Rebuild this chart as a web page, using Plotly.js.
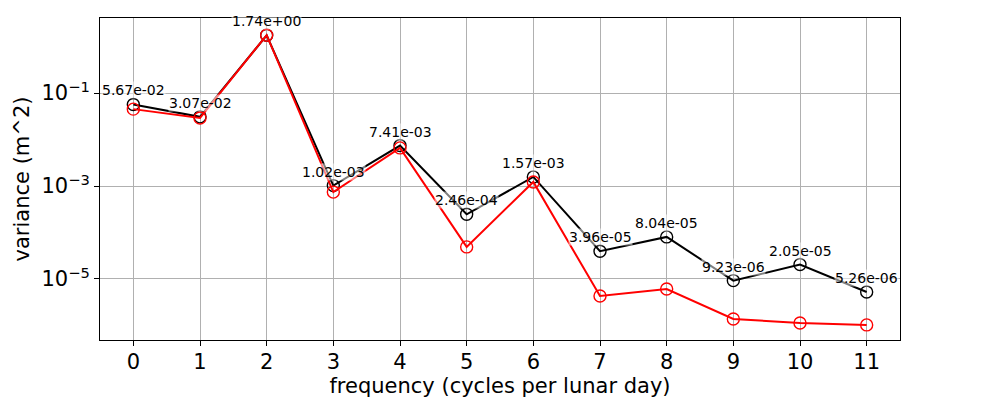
<!DOCTYPE html>
<html>
<head>
<meta charset="utf-8">
<script src="https://cdn.plot.ly/plotly-3.0.1.min.js"></script>
<style>
  html, body { margin: 0; padding: 0; background: #fff; }
  #plot { width: 1000px; height: 400px; }
</style>
</head>
<body>
<div id="plot"></div>
<script>
// frequency bins (cycles per lunar day)
var freq = [0, 1, 2, 3, 4, 5, 6, 7, 8, 9, 10, 11];

// variance per bin, black series (annotated)
var var_black = [5.67e-2, 3.07e-2, 1.74, 1.02e-3, 7.41e-3, 2.46e-4,
                 1.57e-3, 3.96e-5, 8.04e-5, 9.23e-6, 2.05e-5, 5.26e-6];

// variance per bin, red series
var var_red = [4.5e-2, 2.9e-2, 1.75, 7.4e-4, 6.6e-3, 4.9e-5,
               1.22e-3, 4.3e-6, 6.1e-6, 1.38e-6, 1.13e-6, 1.03e-6];

// y tick labels
var ytick_vals = [1e-5, 1e-3, 1e-1];
var ytick_text = ['10<sup>\u22125</sup>', '10<sup>\u22123</sup>', '10<sup>\u22121</sup>'];

var font_family = 'DejaVu Sans, sans-serif';

var trace_black = {
    x: freq,
    y: var_black,
    mode: 'lines+markers',
    type: 'scatter',
    line: { color: 'black', width: 2 },
    marker: { symbol: 'circle-open', size: 12, color: 'black', line: { width: 1.4 } },
    showlegend: false
};

var trace_red = {
    x: freq,
    y: var_red,
    mode: 'lines+markers',
    type: 'scatter',
    line: { color: 'red', width: 2 },
    marker: { symbol: 'circle-open', size: 12, color: 'red', line: { width: 1.4 } },
    showlegend: false
};

// value labels above the black markers
var notes = [];
freq.forEach(function(f, i) {
    notes.push({
        x: f,
        y: Math.log10(var_black[i]),
        xref: 'x',
        yref: 'y',
        text: var_black[i].toExponential(2).replace(/e([+-])(\d)$/, 'e$10$2'),
        showarrow: false,
        yanchor: 'middle',
        yshift: 14,
        bgcolor: 'rgba(255,255,255,0.5)',
        borderpad: 0,
        font: { family: font_family, size: 14, color: 'black' }
    });
});

var layout = {
    width: 1000,
    height: 400,
    margin: { l: 100, r: 100, t: 18, b: 60 },
    paper_bgcolor: 'white',
    plot_bgcolor: 'white',
    font: { family: font_family, color: 'black' },
    xaxis: {
        title: { text: 'frequency (cycles per lunar day)', font: { size: 21 }, standoff: 4 },
        range: [-0.5, 11.5],
        tickvals: freq,
        tickfont: { size: 21 },
        ticklabelstandoff: -2,
        showgrid: true,
        gridcolor: '#b0b0b0',
        gridwidth: 1,
        zeroline: false,
        showline: true,
        linecolor: 'black',
        linewidth: 1,
        mirror: true,
        ticks: 'outside',
        ticklen: 5,
        tickcolor: 'black'
    },
    yaxis: {
        title: { text: 'variance (m^2)', font: { size: 21 }, standoff: 6 },
        type: 'log',
        range: [-6.312, 0.613],
        tickvals: ytick_vals,
        ticktext: ytick_text,
        tickfont: { size: 21 },
        showgrid: true,
        gridcolor: '#b0b0b0',
        gridwidth: 1,
        zeroline: false,
        showline: true,
        linecolor: 'black',
        linewidth: 1,
        mirror: true,
        ticks: 'outside',
        ticklen: 5,
        tickcolor: 'black'
    },
    annotations: notes
};

Plotly.newPlot('plot', [trace_black, trace_red], layout, { displayModeBar: false, staticPlot: true });
</script>
</body>
</html>
